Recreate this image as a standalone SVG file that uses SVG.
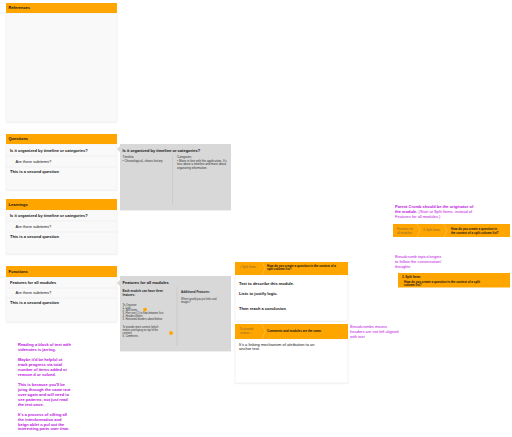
<svg xmlns="http://www.w3.org/2000/svg" width="512" height="437" viewBox="0 0 512 437">
<defs>
<filter id="sh" x="-10%" y="-10%" width="120%" height="130%">
<feDropShadow dx="0" dy="0.5" stdDeviation="0.7" flood-color="#000" flood-opacity="0.12"/>
</filter>
<style>
text{font-family:"Liberation Sans",Arial,sans-serif;fill:#111}
.hd{fill:#ffa500}
.body{fill:#f9f9f9;stroke:#ececec;stroke-width:0.4}
.sep{stroke:#e6e6e6;stroke-width:0.4}
.h{font-size:4px;font-weight:bold}
.b4{font-size:4px;font-weight:bold}
.r4{font-size:4px}
.pop{fill:#d8d8d8}
.p3{font-size:3px;fill:#333}
.p3b{font-size:3px;font-weight:bold;fill:#222}
.p26{font-size:2.6px;fill:#333}
.div{stroke:#b8b8b8;stroke-width:0.35}
.card{fill:#fff;stroke:#e6e6e6;stroke-width:0.4}
.crumb{font-size:3px;fill:#8a6a35}
.t3b{font-size:3px;font-weight:bold;fill:#111}
.chev{fill:none;stroke:#ffcf7a;stroke-width:0.45}
.note{font-size:4px;fill:#bd10e0}
.noteb{font-size:4px;fill:#bd10e0;font-weight:bold}
.dot{fill:#ffa500}
</style>
</defs>

<g id="references">
<rect class="body" x="6" y="13" width="111" height="109" filter="url(#sh)"/>
<rect class="hd" x="6" y="3" width="111" height="10"/>
<text class="h" x="8.5" y="9.4">References</text>
</g>

<g id="questions">
<rect class="body" x="6" y="144" width="111" height="46" filter="url(#sh)"/>
<rect class="hd" x="6" y="134" width="111" height="10"/>
<text class="h" x="8.5" y="140.4">Questions</text>
<line class="sep" x1="6" y1="156" x2="117" y2="156"/>
<line class="sep" x1="6" y1="167" x2="117" y2="167"/>
<text class="b4" x="10" y="152">Is it organized by timeline or categories?</text>
<text class="r4" x="15.5" y="162.8">Are there subitems?</text>
<text class="b4" x="10" y="173.4">This is a second question</text>
</g>

<g id="learnings">
<rect class="body" x="6" y="210" width="111" height="44" filter="url(#sh)"/>
<rect class="hd" x="6" y="199" width="111" height="11"/>
<text class="h" x="8.5" y="205.9">Learnings</text>
<line class="sep" x1="6" y1="221" x2="117" y2="221"/>
<line class="sep" x1="6" y1="232" x2="117" y2="232"/>
<text class="b4" x="10" y="217.4">Is it organized by timeline or categories?</text>
<text class="r4" x="15.5" y="227.6">Are there subitems?</text>
<text class="b4" x="10" y="238.4">This is a second question</text>
</g>

<g id="functions">
<rect class="body" x="6" y="277" width="111" height="45" filter="url(#sh)"/>
<rect class="hd" x="6" y="266" width="111" height="11"/>
<text class="h" x="8.5" y="272.9">Functions</text>
<line class="sep" x1="6" y1="288" x2="117" y2="288"/>
<line class="sep" x1="6" y1="298" x2="117" y2="298"/>
<text class="b4" x="10" y="284.4">Features for all modules</text>
<text class="r4" x="15.5" y="294.4">Are there subitems?</text>
<text class="b4" x="10" y="304.4">This is a second question</text>
</g>

<g id="popover-timeline">
<rect class="pop" x="120" y="144" width="111" height="66" filter="url(#sh)"/>
<polygon class="pop" points="120,146 117,149 120,152"/>
<text class="b4" x="122.5" y="151.6">Is it organized by timeline or categories?</text>
<line class="div" x1="172.5" y1="155" x2="172.5" y2="205"/>
<text class="p3" x="122.5" y="158">Timeline</text>
<text class="p3" x="122.5" y="162.3">• Chronological, shows history</text>
<text class="p3" x="177" y="158">Categories</text>
<text class="p3" x="177" y="162.3">• Move in line with the application. It's</text>
<text class="p3" x="177" y="165.4">less about a timeline and more about</text>
<text class="p3" x="177" y="168.5">organizing information.</text>
</g>

<g id="popover-features">
<rect class="pop" x="120" y="276" width="111" height="75" filter="url(#sh)"/>
<polygon class="pop" points="120,280 117,283 120,286"/>
<text class="b4" x="122.5" y="283.6">Features for all modules</text>
<line class="div" x1="177" y1="287" x2="177" y2="346"/>
<text class="p3b" x="122.5" y="292.3">Each module can have three</text>
<text class="p3b" x="122.5" y="295.7">features:</text>
<text class="p26" x="122.5" y="305.6">To Organize</text>
<text class="p26" x="122.5" y="308.6">1. Lists</text>
<text class="p26" x="122.5" y="311.4">2. Split items</text>
<text class="p26" x="122.5" y="314.2">3. Free text (1) to flow between lists</text>
<text class="p26" x="122.5" y="317">4. Headers/footer</text>
<text class="p26" x="122.5" y="319.8">5. Horizontal dividers above/below</text>
<text class="p26" x="122.5" y="328">To provide more context (which</text>
<text class="p26" x="122.5" y="331">means overlaying on top of the</text>
<text class="p26" x="122.5" y="334">content)</text>
<text class="p26" x="122.5" y="337">6. Comments</text>
<circle class="dot" cx="145" cy="309.6" r="1.9"/>
<circle class="dot" cx="171" cy="333" r="1.9"/>
<text class="p3b" x="181" y="293">Additional Features:</text>
<text class="p26" x="181" y="299.6">Where would you put links and</text>
<text class="p26" x="181" y="302.6">images?</text>
</g>

<g id="module-card">
<rect class="card" x="235" y="275" width="113" height="46" filter="url(#sh)"/>
<rect class="hd" x="235" y="262" width="113" height="13"/>
<text class="crumb" x="239.5" y="268.2">&lt; Split Items</text>
<polyline class="chev" points="262,262 265,268.5 262,275"/>
<text class="t3b" x="267" y="266.6">How do you create a question in the context of a</text>
<text class="t3b" x="267" y="270.4">split column list?</text>
<text class="b4" x="239" y="284.6">Text to describe this module.</text>
<text class="b4" x="239" y="294.6">Lists to justify logic.</text>
<text class="b4" x="239" y="310.2">Then reach a conclusion</text>
</g>

<g id="comment-card">
<rect class="card" x="235" y="339" width="113" height="44" filter="url(#sh)"/>
<rect class="hd" x="235" y="324" width="113" height="15"/>
<text class="crumb" x="239.5" y="330">To provide</text>
<text class="crumb" x="239.5" y="333.8">context ...</text>
<polyline class="chev" points="262,324 265,331.5 262,339"/>
<text class="t3b" x="267" y="332.1">Comments and modules are the same.</text>
<text class="r4" x="239" y="345.5">It's a linking mechanism of attribution to an</text>
<text class="r4" x="239" y="349.8">anchor text.</text>
</g>

<g id="note-parent-crumb">
<text x="395" y="208.3"><tspan class="noteb">Parent Crumb should be the originator of</tspan></text>
<text x="395" y="213.3"><tspan class="noteb">the module.</tspan><tspan class="note"> (Start at Split Items, instead of</tspan></text>
<text class="note" x="395" y="218.3">Features for all modules.)</text>
</g>

<g id="breadcrumb-bar">
<rect class="hd" x="393" y="224" width="117" height="13"/>
<text class="crumb" x="397" y="230">Features for</text>
<text class="crumb" x="397" y="233.8">all modules</text>
<polyline class="chev" points="417,224 420,230.5 417,237"/>
<text class="crumb" x="423" y="231.4">3. Split Items</text>
<polyline class="chev" points="444,224 447,230.5 444,237"/>
<text class="t3b" x="451" y="230">How do you create a question in</text>
<text class="t3b" x="451" y="233.8">the context of a split column list?</text>
</g>

<g id="note-breadcrumb-topics">
<text class="note" x="395" y="258.1">Breadcrumb topics/origins</text>
<text class="note" x="395" y="263.1">to follow the conversation/</text>
<text class="note" x="395" y="268.1">thoughts</text>
</g>

<g id="breadcrumb-box">
<rect class="hd" x="398" y="273" width="112" height="14.5"/>
<text class="t3b" x="402" y="278.3">3. Split Items</text>
<text class="t3b" x="404" y="282.6">How do you create a question in the context of a split</text>
<text class="t3b" x="404" y="286.1">column list?</text>
</g>

<g id="note-breadcrumbs-headers">
<text class="note" x="350" y="328.4">Breadcrumbs means</text>
<text class="note" x="350" y="333.4">headers are not left aligned</text>
<text class="note" x="350" y="338.4">with text</text>
</g>

<g id="note-sidenotes">
<text class="noteb" x="18" y="346.4">Reading a block of text with</text>
<text class="noteb" x="18" y="351.3">sidenotes is jarring.</text>
<text class="noteb" x="18" y="361.2">Maybe it'd be helpful ot</text>
<text class="noteb" x="18" y="366.1">track progress via total</text>
<text class="noteb" x="18" y="371.1">number of items added or</text>
<text class="noteb" x="18" y="376">remove d or solved.</text>
<text class="noteb" x="18" y="385.9">This is because you'll be</text>
<text class="noteb" x="18" y="390.9">juing through the same text</text>
<text class="noteb" x="18" y="395.8">over again and will need to</text>
<text class="noteb" x="18" y="400.8">see patterns, not just read</text>
<text class="noteb" x="18" y="405.7">the text once.</text>
<text class="noteb" x="18" y="415.6">It's a process of sifting all</text>
<text class="noteb" x="18" y="420.5">the intenformation and</text>
<text class="noteb" x="18" y="425.5">beign ablet o pul out the</text>
<text class="noteb" x="18" y="430.4">interesting parts over time.</text>
</g>

<g id="connectors"/>
</svg>
